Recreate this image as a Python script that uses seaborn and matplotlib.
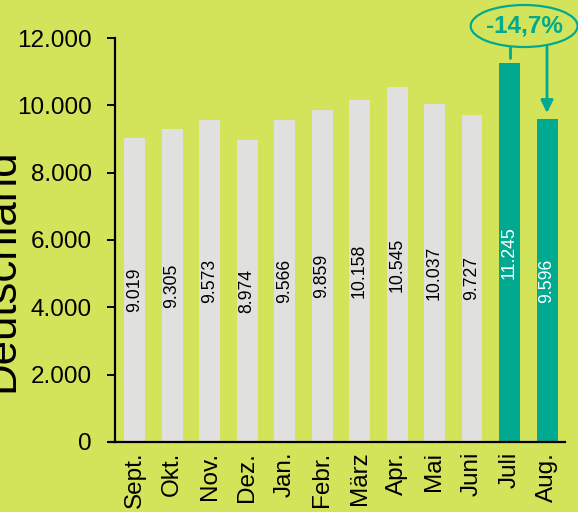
import matplotlib
matplotlib.use("Agg")
import matplotlib.pyplot as plt
import seaborn as sns
import pandas as pd
from matplotlib.patches import Ellipse

months = ["Sept.", "Okt.", "Nov.", "Dez.", "Jan.", "Febr.", "März", "Apr.", "Mai", "Juni", "Juli", "Aug."]
values = [9019, 9305, 9573, 8974, 9566, 9859, 10158, 10545, 10037, 9727, 11245, 9596]
value_labels = ["9.019", "9.305", "9.573", "8.974", "9.566", "9.859", "10.158", "10.545", "10.037", "9.727", "11.245", "9.596"]
yticks = [0, 2000, 4000, 6000, 8000, 10000, 12000]
ytick_labels = ["0", "2.000", "4.000", "6.000", "8.000", "10.000", "12.000"]
change_label = "-14,7%"
ylabel = "Deutschland"

BG = "#d4e45a"
GREY = "#e0e1df"
TEAL = "#00a98f"

sns.set_theme(style="white")
plt.rcParams['font.family'] = ['Liberation Sans', 'DejaVu Sans']

df = pd.DataFrame({"month": months, "value": values})
colors = [GREY] * 10 + [TEAL] * 2

fig = plt.figure(figsize=(5.78, 5.12), dpi=100, facecolor=BG)
ax = fig.add_axes([115/578, 70/512, 450/578, 404/512])
ax.set_facecolor(BG)

sns.barplot(data=df, x="month", y="value", hue="month", palette=colors,
            legend=False, width=0.56, ax=ax, saturation=1, linewidth=0)

ax.set_ylim(0, 12000)
ax.set_xlim(-0.52, 11.48)
ax.set_yticks(yticks)
ax.set_yticklabels(ytick_labels, fontsize=17.5, color="black")
ax.set_xticks(range(len(months)))
ax.set_xticklabels(months, rotation=90, fontsize=17.5, color="black")
ax.set_xlabel("")
ax.set_ylabel("")

for s in ["top", "right"]:
    ax.spines[s].set_visible(False)
for s in ["left", "bottom"]:
    ax.spines[s].set_color("black")
    ax.spines[s].set_linewidth(1.6)
ax.tick_params(axis="y", length=5.5, width=1.4, color="black", pad=11, left=True)
ax.tick_params(axis="x", length=0, pad=7)
# extend baseline to the left like the reference
ax.plot([-0.72, -0.52], [0, 0], color="black", lw=1.6, clip_on=False,
        solid_capstyle="butt")

for i, (v, lab) in enumerate(zip(values, value_labels)):
    ax.text(i, v / 2, lab, rotation=90, ha="center", va="center", fontsize=12.7,
            color="white" if i >= 10 else "black")

# annotation
ax.add_patch(Ellipse((10.39, 12356), 2.85, 1248, facecolor="none", edgecolor=TEAL,
                     lw=1.6, clip_on=False))
ax.text(10.39, 12356, change_label, ha="center", va="center", fontsize=17.5,
        fontweight="bold", color=TEAL, clip_on=False)
ax.plot([10.0, 10.0], [11733, 11406], color=TEAL, lw=2, clip_on=False)
ax.annotate("", xy=(11.0, 9772), xytext=(11.0, 11733),
            arrowprops=dict(arrowstyle="-|>,head_length=0.75,head_width=0.37",
                            color=TEAL, lw=2, shrinkA=0, shrinkB=0, mutation_scale=10),
            annotation_clip=False)

fig.text(13/578, 1 - 270/512, ylabel, rotation=90, ha="center", va="baseline",
         rotation_mode="anchor", fontsize=31.5, color="black")

fig.savefig("out.png", dpi=100, facecolor=BG)
